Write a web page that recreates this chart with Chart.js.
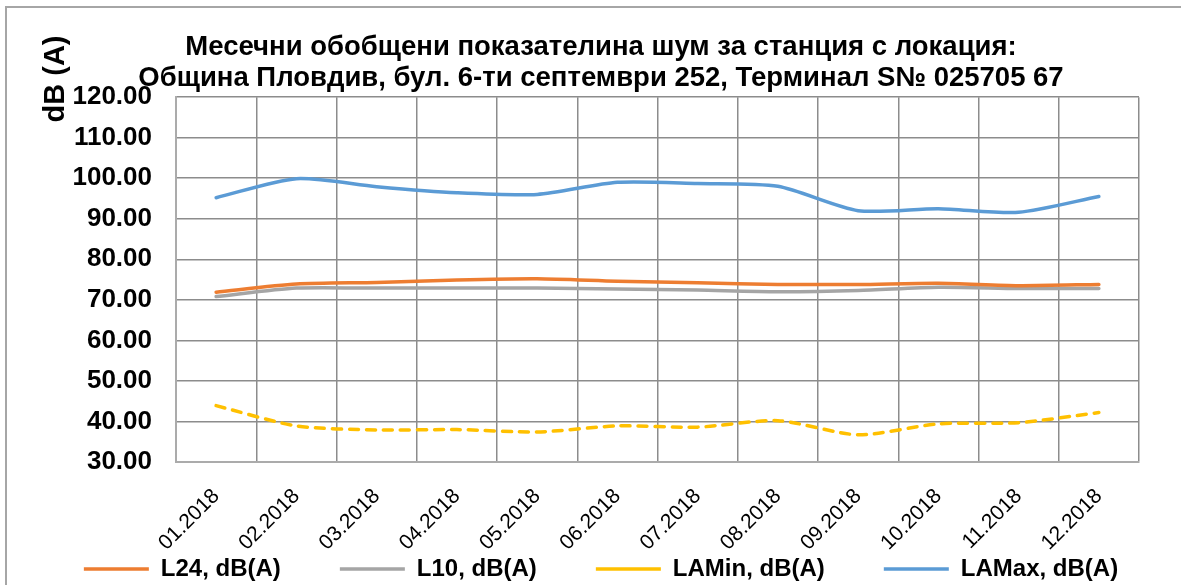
<!DOCTYPE html>
<html><head><meta charset="utf-8">
<script src="https://cdn.jsdelivr.net/npm/chart.js@4.4.1/dist/chart.umd.min.js"></script>
<style>html,body{margin:0;padding:0;background:#fff;} #wrap{width:1181px;height:585px;position:relative;}</style>
</head><body><div id="wrap"><canvas id="c"></canvas></div>
<script>
const titleLines = ['Месечни обобщени показателина шум за станция с локация:', 'Община Пловдив, бул. 6-ти септември 252, Терминал S№ 025705 67'];
const yAxisTitle = 'dB (A)';
const categories = ['01.2018','02.2018','03.2018','04.2018','05.2018','06.2018','07.2018','08.2018','09.2018','10.2018','11.2018','12.2018'];
const l24   = [71.9, 73.9, 74.3, 74.9, 75.2, 74.6, 74.2, 73.8, 73.8, 74.1, 73.5, 73.8];
const l10   = [70.8, 72.9, 72.9, 72.9, 72.9, 72.7, 72.4, 72.0, 72.3, 73.1, 72.8, 72.8];
const laMin = [43.9, 38.9, 37.9, 38.0, 37.4, 38.9, 38.6, 40.2, 36.7, 39.4, 39.7, 42.2];
const laMax = [95.2, 99.9, 97.9, 96.4, 96.0, 99.0, 98.7, 98.0, 92.0, 92.5, 91.6, 95.5];
const yMin = 30, yMax = 120, yStep = 10;

Chart.defaults.font.family = "'Liberation Sans', Arial, sans-serif";
Chart.defaults.color = '#000';

const framePlugin = {
  id: 'frame',
  beforeDraw(chart) {
    // let the rotated month labels run below the axis box
    if (chart.scales.x) chart.scales.x._computeLabelArea = function () { return undefined; };
    const c = chart.ctx;
    c.save();
    c.fillStyle = '#fff';
    c.fillRect(0, 0, chart.width, chart.height);
    c.strokeStyle = '#a6a6a6';
    c.lineWidth = 2;
    c.beginPath();
    c.moveTo(6, chart.height);
    c.lineTo(6, 7);
    c.lineTo(chart.width, 7);
    c.stroke();
    c.restore();
  },
  afterDraw(chart) {
    const c = chart.ctx;
    c.save();
    c.translate(56, 79);
    c.rotate(-Math.PI / 2);
    c.font = "bold 29px 'Liberation Sans', Arial, sans-serif";
    c.fillStyle = '#000';
    c.textAlign = 'center';
    c.textBaseline = 'middle';
    c.fillText(yAxisTitle, 0, 0);
    c.restore();
  }
};

const common = {borderWidth: 3.5, pointRadius: 0, pointHoverRadius: 0, tension: 0.25, borderCapStyle: 'round', borderJoinStyle: 'round', fill: false};

new Chart(document.getElementById('c'), {
  type: 'line',
  data: {
    labels: categories,
    datasets: [
      Object.assign({label: 'L24, dB(A)', data: l24, borderColor: '#ED7D31', backgroundColor: '#ED7D31'}, common),
      Object.assign({label: 'L10, dB(A)', data: l10, borderColor: '#A5A5A5', backgroundColor: '#A5A5A5'}, common),
      Object.assign({label: 'LAMin, dB(A)', data: laMin, borderColor: '#FFC000', backgroundColor: '#FFC000', borderDash: [9, 8]}, common),
      Object.assign({label: 'LAMax, dB(A)', data: laMax, borderColor: '#5B9BD5', backgroundColor: '#5B9BD5'}, common)
    ]
  },
  options: {
    responsive: true, maintainAspectRatio: false, animation: false,
    layout: {padding: {left: 21, right: 0, top: 0, bottom: -6}},
    plugins: {
      title: {display: true, text: titleLines, color: '#000', font: {size: 27.5, weight: 'bold', lineHeight: 1.13}, padding: {top: 32, bottom: 3}},
      legend: {position: 'bottom', labels: {usePointStyle: true, pointStyle: 'line', pointStyleWidth: 65, font: {size: 24, weight: 'bold'}, padding: 59, color: '#000'}},
      tooltip: {enabled: false}
    },
    scales: {
      x: {
        offset: true,
        grid: {offset: true, color: '#8c8c8c', lineWidth: 1.5, drawTicks: false},
        border: {color: '#ababab', width: 2},
        ticks: {minRotation: 45, maxRotation: 45, autoSkip: false, padding: 22, font: {size: 21}, color: '#000'},
        afterFit(s) { s.height = 36; }
      },
      y: {
        min: yMin, max: yMax,
        ticks: {stepSize: yStep, autoSkip: false, callback: v => v.toFixed(2), font: {size: 26, weight: 'bold'}, padding: 24, color: '#000'},
        grid: {color: '#8c8c8c', lineWidth: 1.5, drawTicks: false},
        border: {color: '#ababab', width: 2},
        afterFit(s) { s.width = 155; }
      },
      yRight: {
        type: 'linear', position: 'right', display: true,
        ticks: {display: false}, grid: {display: false, drawTicks: false}, border: {display: false},
        afterFit(s) { s.width = 42; }
      }
    }
  },
  plugins: [framePlugin]
});
</script></body></html>
